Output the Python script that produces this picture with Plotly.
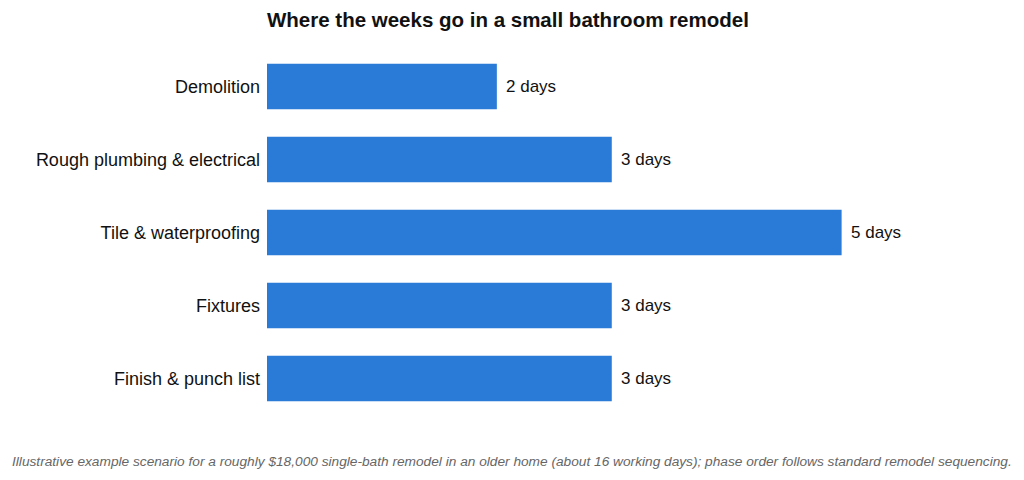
import plotly.graph_objects as go

phases = ["Demolition", "Rough plumbing & electrical", "Tile & waterproofing", "Fixtures", "Finish & punch list"]
days = [2, 3, 5, 3, 3]
labels = [f"{d} days" for d in days]

title = "<b>Where the weeks go in a small bathroom remodel</b>"
note = ("<i>Illustrative example scenario for a roughly $18,000 single-bath remodel in an older home "
        "(about 16 working days); phase order follows standard remodel sequencing.</i>")

FONT = "Liberation Sans, Arial, sans-serif"
L, R, T, B = 267, 10, 50, 65
W, H = 1024, 480
plot_w = W - L - R
plot_h = H - T - B

fig = go.Figure(go.Bar(
    x=days, y=phases, orientation="h",
    marker=dict(color="#2A7AD8", line=dict(width=0)),
    width=0.62,
    hoverinfo="x+y",
))

annotations = [
    dict(x=d, y=p, xref="x", yref="y", text=t, showarrow=False,
         xanchor="left", yanchor="middle", xshift=7,
         font=dict(size=17, color="#111111", family=FONT))
    for d, p, t in zip(days, phases, labels)
]
annotations.append(dict(
    text=note, xref="paper", x=(512 - L) / plot_w, xanchor="center",
    yref="paper", y=-(461 - (T + plot_h)) / plot_h, yanchor="middle",
    showarrow=False, font=dict(size=13.7, color="#666666", family=FONT)))

fig.update_layout(
    width=W, height=H,
    margin=dict(l=L, r=R, t=T, b=B),
    paper_bgcolor="white", plot_bgcolor="white",
    font=dict(family=FONT, color="#111111"),
    title=dict(text=title, x=0.496, xanchor="center", y=1 - 20 / H, yanchor="middle",
               font=dict(size=20.5, color="#111111")),
    showlegend=False,
    xaxis=dict(range=[0, 6.5], visible=False, showgrid=False, zeroline=False),
    yaxis=dict(autorange="reversed", showgrid=False, zeroline=False, showline=False,
               ticks="", tickfont=dict(size=18, color="#111111"), ticklabelstandoff=6),
    annotations=annotations,
)

fig.write_html("out.html")
